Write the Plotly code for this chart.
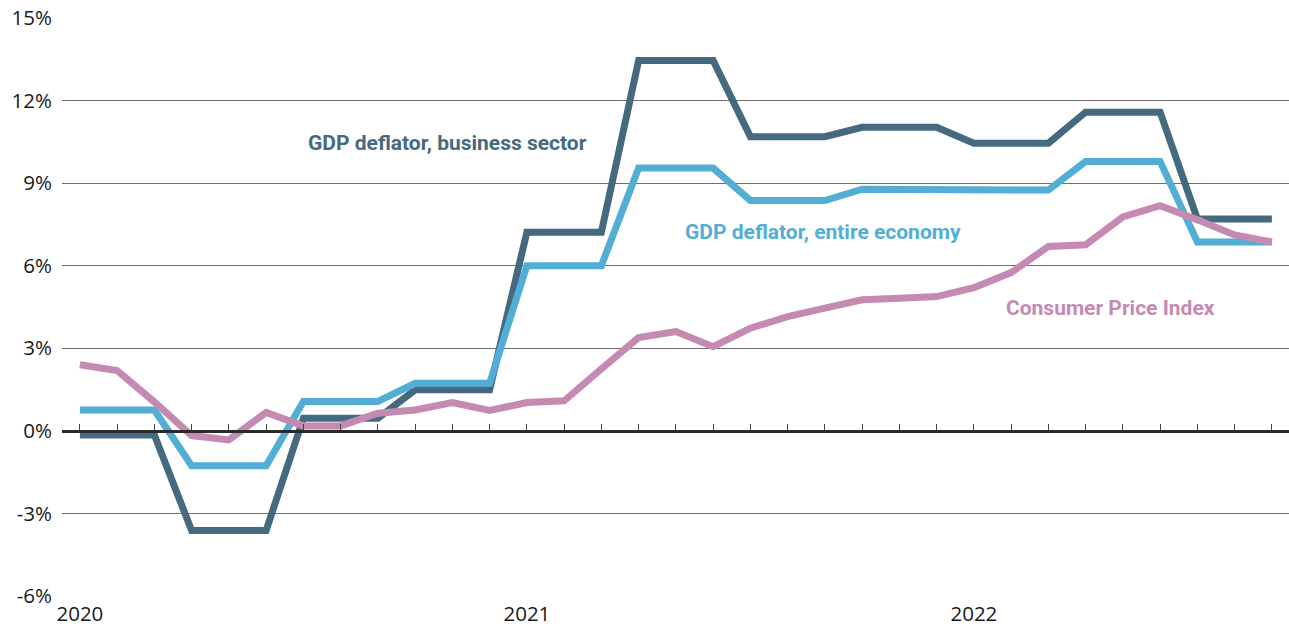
import plotly.graph_objects as go

# Monthly observations, January 2020 to September 2022
months = [f"{y}-{m:02d}" for y in (2020, 2021, 2022) for m in range(1, 13)][:33]
year_ticks = ["2020", "2021", "2022"]
year_tick_pos = [0, 12, 24]

gdp_business = [
    -0.15, -0.15, -0.15, -3.62, -3.62, -3.62, 0.46, 0.46, 0.46, 1.49, 1.49, 1.49,
    7.22, 7.22, 7.22, 13.46, 13.46, 13.46, 10.69, 10.69, 10.69, 11.03, 11.03, 11.03,
    10.45, 10.45, 10.45, 11.58, 11.58, 11.58, 7.70, 7.70, 7.70,
]
gdp_economy = [
    0.76, 0.76, 0.76, -1.27, -1.27, -1.27, 1.07, 1.07, 1.07, 1.73, 1.73, 1.73,
    6.00, 6.00, 6.00, 9.55, 9.55, 9.55, 8.37, 8.37, 8.37, 8.78, 8.78, 8.78,
    8.75, 8.75, 8.75, 9.79, 9.79, 9.79, 6.86, 6.86, 6.86,
]
cpi = [
    2.40, 2.19, 1.05, -0.17, -0.33, 0.67, 0.18, 0.18, 0.64, 0.76, 1.03, 0.74,
    1.03, 1.09, 2.25, 3.39, 3.61, 3.06, 3.73, 4.15, 4.46, 4.76, 4.82, 4.88,
    5.20, 5.75, 6.70, 6.76, 7.77, 8.18, 7.67, 7.12, 6.86,
]
y_ticks = [-6, -3, 0, 3, 6, 9, 12, 15]
y_tick_text = [f"{v}%" for v in y_ticks]

C_BUSINESS = "#456a80"
C_ECONOMY = "#53aed6"
C_CPI = "#c58ab2"

x = list(range(len(months)))
fig = go.Figure()
for name, vals, col in [
    ("GDP deflator, business sector", gdp_business, C_BUSINESS),
    ("GDP deflator, entire economy", gdp_economy, C_ECONOMY),
    ("Consumer Price Index", cpi, C_CPI),
]:
    fig.add_trace(go.Scatter(
        x=x, y=vals, mode="lines", name=name, customdata=months,
        line=dict(color=col, width=7), hoverinfo="skip",
    ))

# empty trace so the month-tick axis along the zero line is drawn
fig.add_trace(go.Scatter(x=[], y=[], xaxis="x2", showlegend=False, hoverinfo="skip"))

label_font = "Roboto, sans-serif"
labels = [
    ("GDP deflator, business sector", 9.87, 10.45, C_BUSINESS),
    ("GDP deflator, entire economy", 19.94, 7.22, C_ECONOMY),
    ("Consumer Price Index", 27.68, 4.45, C_CPI),
]
for text, lx, ly, col in labels:
    fig.add_annotation(
        x=lx, y=ly, text=f"<b>{text}</b>", showarrow=False,
        font=dict(family=label_font, size=21, color=col),
    )

x_range = [-0.48, 32.46]
fig.update_layout(
    width=1289, height=628,
    margin=dict(l=62, r=0, t=18, b=32, autoexpand=False),
    paper_bgcolor="white", plot_bgcolor="white",
    showlegend=False,
    font=dict(family="Open Sans, sans-serif", size=20.5, color="#1a1a1a"),
    xaxis=dict(
        range=x_range, tickvals=year_tick_pos, ticktext=year_ticks,
        showgrid=False, zeroline=False, showline=False, ticks="",
        ticklabelstandoff=3, automargin=False,
    ),
    xaxis2=dict(
        overlaying="x", anchor="free", position=6 / 21, side="bottom",
        range=x_range, tickvals=x, ticks="inside", ticklen=6, tickwidth=1,
        tickcolor="#444", showticklabels=False, showgrid=False, zeroline=False,
        showline=True, linecolor="#2a2a2a", linewidth=2.5, automargin=False,
    ),
    yaxis=dict(
        range=[-6, 15], tickvals=y_ticks, ticktext=y_tick_text,
        showgrid=True, gridcolor="#6e6e6e", gridwidth=1, zeroline=False,
        ticks="", ticklabelstandoff=9, automargin=False,
    ),
)

fig.write_html("out.html")
